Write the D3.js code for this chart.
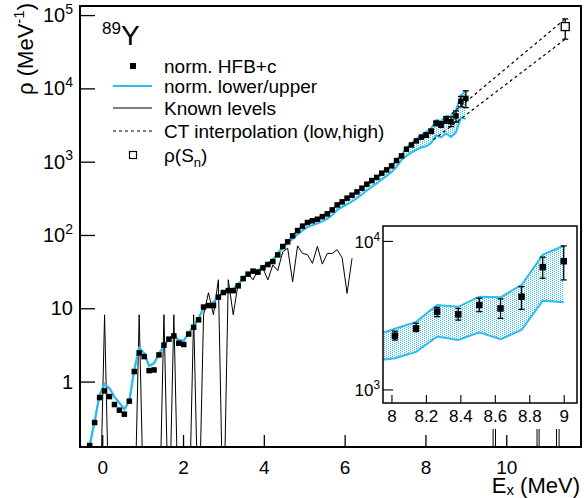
<!DOCTYPE html>
<html>
<head>
<meta charset="utf-8">
<script src="https://cdn.jsdelivr.net/npm/d3@7"></script>
<style>
body { margin: 0; background: #fff; }
text { font-family: "Liberation Sans", Arial, sans-serif; fill: #000; }
</style>
</head>
<body>
<svg id="chart" width="584" height="498"></svg>
<script>
// bin centres (MeV)
var ex = [-0.310, -0.188, -0.065, 0.058, 0.180, 0.303, 0.425, 0.548, 0.670, 0.793,
  0.915, 1.038, 1.160, 1.283, 1.405, 1.528, 1.650, 1.773, 1.895, 2.018,
  2.140, 2.263, 2.385, 2.508, 2.630, 2.753, 2.875, 2.998, 3.120, 3.243,
  3.365, 3.488, 3.610, 3.733, 3.855, 3.978, 4.100, 4.223, 4.345, 4.468,
  4.590, 4.713, 4.835, 4.958, 5.080, 5.203, 5.325, 5.448, 5.570, 5.693,
  5.815, 5.938, 6.060, 6.183, 6.305, 6.428, 6.550, 6.673, 6.795, 6.918,
  7.040, 7.163, 7.285, 7.408, 7.530, 7.653, 7.775, 7.898, 8.020, 8.143,
  8.265, 8.388, 8.510, 8.633, 8.755, 8.878, 9.000];

// norm. HFB+c
var rho = [0.134, 0.276, 0.605, 0.746, 0.624, 0.486, 0.407, 0.359, 0.54, 1.37,
  2.46, 2.19, 1.41, 1.44, 2.31, 3.14, 3.79, 4.2, 3.34, 3.2,
  4.45, 5.5, 6.95, 10.4, 10.9, 10.9, 14.2, 16.4, 17.4, 17.4,
  20.2, 25.4, 29.2, 32.1, 31.1, 35.6, 39.5, 43.4, 53.5, 69.5,
  80.5, 97.3, 115, 132, 148, 156, 164, 178, 194, 220,
  257, 283, 318, 349, 387, 435, 493, 552, 610, 697,
  773, 877, 1035, 1200, 1480, 1690, 1920, 2160, 2300, 2580,
  3340, 3200, 3700, 3510, 4210, 6660, 7300];

// norm. upper
var rhoUpper = [0.135, 0.285, 0.66, 0.93, 0.81, 0.62, 0.51, 0.42, 0.54, 1.45,
  2.86, 2.44, 1.64, 1.78, 2.39, 3.1, 3.8, 4.3, 3.65, 3.6,
  4.6, 5.7, 7.3, 10.0, 11.3, 12.0, 14.5, 16.5, 17.8, 18.5,
  21, 25.5, 29.5, 32, 33, 36.5, 41, 46, 56, 70,
  82, 98, 115, 131, 148, 156, 165, 178, 195, 222,
  257, 285, 318, 350, 390, 437, 495, 555, 615, 700,
  780, 885, 1050, 1240, 1540, 1780, 2040, 2300, 2560, 2850,
  3700, 3600, 4210, 4170, 5050, 8050, 9290];

// norm. lower
var rhoLower = [0.135, 0.285, 0.66, 0.93, 0.81, 0.62, 0.51, 0.42, 0.54, 1.45,
  2.86, 2.44, 1.64, 1.78, 2.39, 3.1, 3.8, 4.3, 3.65, 3.6,
  4.6, 5.7, 7.3, 10.0, 11.3, 12.0, 14.5, 16.5, 17.8, 18.5,
  21, 25.5, 29.5, 32, 33, 36.5, 41, 46, 56, 66,
  77, 88, 102, 115, 128, 136, 143, 153, 166, 187,
  218, 240, 262, 287, 318, 357, 404, 452, 505, 570,
  640, 725, 850, 1060, 1200, 1330, 1450, 1560, 1620, 1790,
  2270, 2150, 2420, 2180, 2510, 3960, 3860];

// known levels (same bins, 0 = no level)
var knownLevels = [0, 0, 0, 8.16, 0, 0, 0, 0, 0, 0,
  8.16, 0, 0, 0, 0, 8.16, 0, 8.16, 0, 0,
  0, 8.16, 0, 8.16, 16.3, 8.16, 24.5, 0, 24.5, 8.16,
  22, 24, 30, 24.4, 33.4, 35, 24.4, 39, 32.7, 59,
  66, 23, 71, 56, 54, 41, 70, 40, 56, 56,
  63, 49, 16, 48];

// error bars (upper, lower ends)
var errEx = [8.020, 8.143, 8.265, 8.388, 8.510, 8.633, 8.755, 8.878, 9.000];
var errTop = [2470, 2790, 3570, 3510, 4110, 4070, 4920, 7770, 9250];
var errBottom = [2150, 2450, 3090, 2930, 3340, 3010, 3460, 5600, 5460];

// CT interpolation
var ctLowE = [8.2, 11.46], ctLowRho = [2000, 46900];
var ctHighE = [8.65, 11.46], ctHighRho = [4520, 88700];

// rho(Sn)
var snE = [11.46], snRho = [69700], snTop = [88700], snBottom = [46900];

// little marks below the inset (inset energy scale)
var stubEx = [8.59, 8.604, 8.845, 8.857, 8.958, 8.973];

var cyan = "#2bbcf0";

var svg = d3.select("#chart");

var defs = svg.append("defs");
defs.append("clipPath").attr("id", "clipMain")
  .append("rect").attr("x", 80).attr("y", 6).attr("width", 501).attr("height", 441);
defs.append("clipPath").attr("id", "clipInset")
  .append("rect").attr("x", 383).attr("y", 226).attr("width", 194).attr("height", 177);
var pat = defs.append("pattern").attr("id", "dots")
  .attr("width", 4).attr("height", 2).attr("patternUnits", "userSpaceOnUse");
pat.append("rect").attr("x", 0).attr("y", 0).attr("width", 1).attr("height", 1).attr("fill", cyan);
pat.append("rect").attr("x", 2).attr("y", 1).attr("width", 1).attr("height", 1).attr("fill", cyan);

var x = d3.scaleLinear().domain([-0.55, 11.85]).range([80, 581]);
var y = d3.scaleLog().domain([0.128, 1.33e5]).range([447, 6]);

var pts = ex.map(function (e, i) {
  return { e: e, v: rho[i], up: rhoUpper[i], lo: rhoLower[i] };
});
var lev = knownLevels.map(function (v, i) {
  return { e: ex[i], v: v > 0 ? v : 0.008 };
});
var errs = errEx.map(function (e, i) {
  return { e: e, t: errTop[i], b: errBottom[i] };
});

function drawData(g, xs, ys, sq, withLevels) {
  g.append("path")
    .datum(pts)
    .attr("fill", "url(#dots)")
    .attr("d", d3.area().x(d => xs(d.e)).y0(d => ys(d.lo)).y1(d => ys(d.up)));

  if (withLevels) {
    g.append("path")
      .datum(lev)
      .attr("fill", "none")
      .attr("stroke", "#000")
      .attr("stroke-width", 1)
      .attr("d", d3.line().x(d => xs(d.e)).y(d => ys(d.v)));
  }

  g.append("path").datum(pts)
    .attr("fill", "none").attr("stroke", cyan).attr("stroke-width", 2)
    .attr("d", d3.line().x(d => xs(d.e)).y(d => ys(d.up)));
  g.append("path").datum(pts)
    .attr("fill", "none").attr("stroke", cyan).attr("stroke-width", 2)
    .attr("d", d3.line().x(d => xs(d.e)).y(d => ys(d.lo)));

  var eb = g.append("g").attr("stroke", "#000").attr("stroke-width", 1.3);
  eb.selectAll("line.v").data(errs).join("line")
    .attr("x1", d => xs(d.e)).attr("x2", d => xs(d.e))
    .attr("y1", d => ys(d.t)).attr("y2", d => ys(d.b));
  eb.selectAll("line.t").data(errs).join("line")
    .attr("x1", d => xs(d.e) - 3).attr("x2", d => xs(d.e) + 3)
    .attr("y1", d => ys(d.t)).attr("y2", d => ys(d.t));
  eb.selectAll("line.b").data(errs).join("line")
    .attr("x1", d => xs(d.e) - 3).attr("x2", d => xs(d.e) + 3)
    .attr("y1", d => ys(d.b)).attr("y2", d => ys(d.b));

  g.append("g").selectAll("rect").data(pts).join("rect")
    .attr("x", d => xs(d.e) - sq / 2)
    .attr("y", d => ys(d.v) - sq / 2)
    .attr("width", sq).attr("height", sq)
    .attr("fill", "#000");
}

// ---------- main plot ----------
var plot = svg.append("g").attr("clip-path", "url(#clipMain)");
drawData(plot, x, y, 5.5, true);

var ctLine = d3.line().x(d => x(d[0])).y(d => y(d[1]));
plot.append("path")
  .datum(ctLowE.map((e, i) => [e, ctLowRho[i]]))
  .attr("fill", "none").attr("stroke", "#000").attr("stroke-width", 1.2)
  .attr("stroke-dasharray", "3,3").attr("d", ctLine);
plot.append("path")
  .datum(ctHighE.map((e, i) => [e, ctHighRho[i]]))
  .attr("fill", "none").attr("stroke", "#000").attr("stroke-width", 1.2)
  .attr("stroke-dasharray", "3,3").attr("d", ctLine);

// rho(Sn)
var sn = snE.map((e, i) => ({ e: e, v: snRho[i], t: snTop[i], b: snBottom[i] }));
var sng = plot.append("g").attr("stroke", "#000").attr("stroke-width", 1.3);
sn.forEach(function (d) {
  sng.append("line").attr("x1", x(d.e)).attr("x2", x(d.e)).attr("y1", y(d.t)).attr("y2", y(d.b));
  sng.append("line").attr("x1", x(d.e) - 3).attr("x2", x(d.e) + 3).attr("y1", y(d.t)).attr("y2", y(d.t));
  sng.append("line").attr("x1", x(d.e) - 3).attr("x2", x(d.e) + 3).attr("y1", y(d.b)).attr("y2", y(d.b));
  sng.append("rect").attr("x", x(d.e) - 4).attr("y", y(d.v) - 4)
    .attr("width", 8).attr("height", 8).attr("fill", "#fff");
});

// frame
svg.append("rect").attr("x", 80).attr("y", 6).attr("width", 501).attr("height", 441)
  .attr("fill", "none").attr("stroke", "#000").attr("stroke-width", 2);

// x axis
var xMajor = [0, 2, 4, 6, 8, 10];
var xg = svg.append("g").attr("transform", "translate(0,447)");
xg.call(d3.axisBottom(x).tickValues(d3.range(-0.5, 11.6, 0.5)).tickSize(-6).tickFormat(""));
xg.call(d3.axisBottom(x).tickValues(xMajor).tickSize(-12).tickFormat(d3.format("d")));
xg.select(".domain").remove();
xg.selectAll("line").attr("stroke-width", 1.3);
xg.selectAll("text").attr("y", 27).attr("dy", null)
  .attr("font-size", 19).attr("font-family", "Liberation Sans, Arial, sans-serif");

// y axis
var yMajor = [1, 10, 100, 1000, 10000, 100000];
var yMinor = y.ticks().filter(v => yMajor.indexOf(v) < 0 && v > 0.128);
var yg = svg.append("g").attr("transform", "translate(80,0)");
yg.call(d3.axisLeft(y).tickValues(yMinor).tickSize(-8).tickFormat(""));
yg.call(d3.axisLeft(y).tickValues(yMajor).tickSize(-15).tickFormat(""));
yg.select(".domain").remove();
yg.selectAll("line").attr("stroke-width", 1.3);

function powLabel(sel, v, fs) {
  var k = Math.round(Math.log10(v));
  if (k === 0) { sel.text("1"); return; }
  if (k === 1) { sel.text("10"); return; }
  sel.append("tspan").text("10");
  sel.append("tspan").attr("font-size", fs * 0.7).attr("dy", -fs * 0.42).text(k);
}
yMajor.forEach(function (v) {
  var t = svg.append("text").attr("x", 73).attr("y", y(v) + 7)
    .attr("text-anchor", "end").attr("font-size", 20);
  powLabel(t, v, 20);
});

// axis titles
var xt = svg.append("text").attr("x", 580).attr("y", 493)
  .attr("text-anchor", "end").attr("font-size", 22);
xt.append("tspan").text("E");
xt.append("tspan").attr("font-size", 15).attr("dy", 2).text("x");
xt.append("tspan").attr("dy", -2).text(" (MeV)");

var yt = svg.append("text").attr("transform", "translate(33,3) rotate(-90)")
  .attr("text-anchor", "end").attr("font-size", 22);
yt.append("tspan").text("\u03c1 (MeV");
yt.append("tspan").attr("font-size", 15).attr("dy", -9).text("-1");
yt.append("tspan").attr("dy", 9).text(")");

// ---------- legend ----------
var lg = svg.append("g");
var nuc = lg.append("text").attr("x", 102).attr("y", 45);
nuc.append("tspan").attr("font-size", 17).attr("dy", -11).text("89");
nuc.append("tspan").attr("font-size", 28).attr("dy", 11).text("Y");

var legRows = [
  { y: 66, label: "norm. HFB+c", kind: "square" },
  { y: 86, label: "norm. lower/upper", kind: "cyan" },
  { y: 108, label: "Known levels", kind: "line" },
  { y: 131, label: "CT interpolation (low,high)", kind: "dash" },
  { y: 155, label: "sn", kind: "open" }
];
legRows.forEach(function (r) {
  if (r.kind === "square") {
    lg.append("rect").attr("x", 130).attr("y", r.y - 3).attr("width", 6).attr("height", 6).attr("fill", "#000");
  } else if (r.kind === "open") {
    lg.append("rect").attr("x", 129.5).attr("y", r.y - 3.5).attr("width", 7).attr("height", 7)
      .attr("fill", "#fff").attr("stroke", "#000").attr("stroke-width", 1.2);
  } else {
    lg.append("line").attr("x1", 113).attr("x2", 152).attr("y1", r.y).attr("y2", r.y)
      .attr("stroke", r.kind === "cyan" ? cyan : "#000")
      .attr("stroke-width", r.kind === "cyan" ? 2 : 1.2)
      .attr("stroke-dasharray", r.kind === "dash" ? "3,3" : null);
  }
  var t = lg.append("text").attr("x", 164).attr("y", r.y + 6.5).attr("font-size", 19);
  if (r.kind === "open") {
    t.append("tspan").text("\u03c1(S");
    t.append("tspan").attr("font-size", 13).attr("dy", 5).text("n");
    t.append("tspan").attr("dy", -5).text(")");
  } else {
    t.text(r.label);
  }
});

// ---------- inset ----------
var xi = d3.scaleLinear().domain([7.951, 9.077]).range([383, 577]);
var yi = d3.scaleLog().domain([810, 12600]).range([403, 226]);

svg.append("rect").attr("x", 383).attr("y", 226).attr("width", 194).attr("height", 177)
  .attr("fill", "#fff");
var ins = svg.append("g").attr("clip-path", "url(#clipInset)");
drawData(ins, xi, yi, 6.5, false);
svg.append("rect").attr("x", 383).attr("y", 226).attr("width", 194).attr("height", 177)
  .attr("fill", "none").attr("stroke", "#000").attr("stroke-width", 1.5);

var xig = svg.append("g").attr("transform", "translate(0,403)");
xig.call(d3.axisBottom(xi).tickValues(d3.range(7.96, 9.07, 0.04)).tickSize(-4).tickFormat(""));
xig.call(d3.axisBottom(xi).tickValues([8, 8.2, 8.4, 8.6, 8.8, 9]).tickSize(-8)
  .tickFormat(d => String(+d.toFixed(1))));
xig.select(".domain").remove();
xig.selectAll("line").attr("stroke-width", 1.1);
xig.selectAll("text").attr("y", 19).attr("dy", null)
  .attr("font-size", 17).attr("font-family", "Liberation Sans, Arial, sans-serif");

var yig = svg.append("g").attr("transform", "translate(383,0)");
yig.call(d3.axisLeft(yi).tickValues(yi.ticks().filter(v => v !== 1000 && v !== 10000)).tickSize(-5).tickFormat(""));
yig.call(d3.axisLeft(yi).tickValues([1000, 10000]).tickSize(-10).tickFormat(""));
yig.select(".domain").remove();
yig.selectAll("line").attr("stroke-width", 1.1);
[1000, 10000].forEach(function (v) {
  var t = svg.append("text").attr("x", 380).attr("y", yi(v) + 7)
    .attr("text-anchor", "end").attr("font-size", 17);
  powLabel(t, v, 17);
});

// marks below the inset
svg.append("g").selectAll("line").data(stubEx).join("line")
  .attr("x1", d => xi(d)).attr("x2", d => xi(d))
  .attr("y1", 429).attr("y2", 447)
  .attr("stroke", "#000").attr("stroke-width", 1);
</script>
</body>
</html>
